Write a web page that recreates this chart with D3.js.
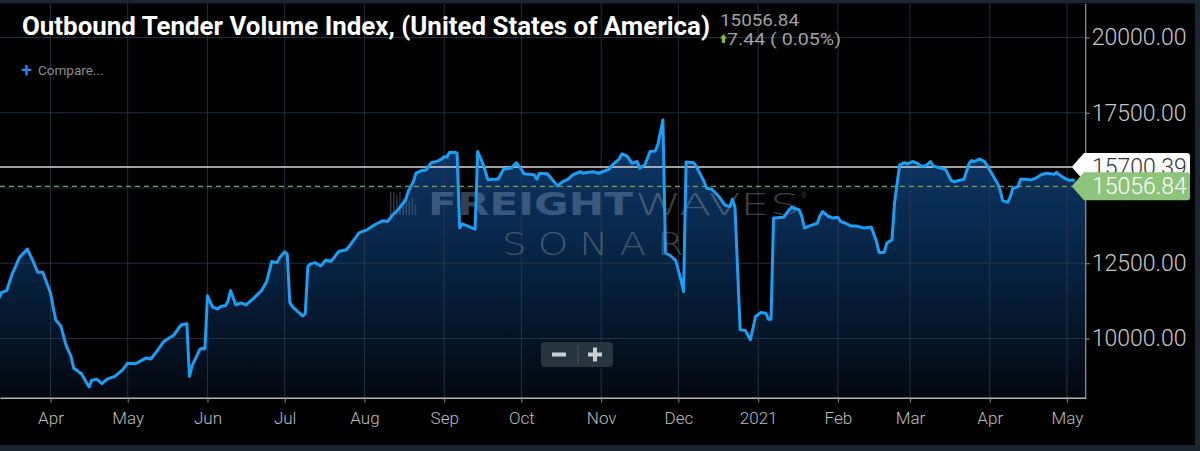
<!DOCTYPE html>
<html lang="en">
<head>
<meta charset="UTF-8">
<title>Outbound Tender Volume Index</title>
<style>
  html, body { margin: 0; padding: 0; background: #000; }
  svg { display: block; font-family: Roboto, "Open Sans", sans-serif; }
</style>
</head>
<body>
<svg id="chart" width="1200" height="451"></svg>
<script src="https://d3js.org/d3.v7.min.js"></script>
<script>
// data
var dates = [
  "2020-03-12","2020-03-13","2020-03-15","2020-03-17","2020-03-20","2020-03-23","2020-03-25","2020-03-27","2020-03-29",
  "2020-04-01","2020-04-03","2020-04-05","2020-04-07","2020-04-09","2020-04-10","2020-04-13","2020-04-15","2020-04-16",
  "2020-04-17","2020-04-19","2020-04-21","2020-04-23","2020-04-26","2020-04-29",
  "2020-05-01","2020-05-04","2020-05-08","2020-05-10","2020-05-12","2020-05-15","2020-05-17","2020-05-19","2020-05-21",
  "2020-05-22","2020-05-24","2020-05-25","2020-05-26","2020-05-29","2020-05-30","2020-05-31",
  "2020-06-01","2020-06-03","2020-06-05","2020-06-06","2020-06-08","2020-06-09","2020-06-10","2020-06-12","2020-06-14",
  "2020-06-16","2020-06-19","2020-06-22","2020-06-24","2020-06-26","2020-06-28","2020-06-29",
  "2020-07-01","2020-07-02","2020-07-03","2020-07-04","2020-07-06","2020-07-08","2020-07-09","2020-07-10","2020-07-11",
  "2020-07-13","2020-07-15","2020-07-17","2020-07-19","2020-07-22","2020-07-25","2020-07-27","2020-07-30",
  "2020-08-02","2020-08-05","2020-08-08","2020-08-10","2020-08-12","2020-08-14","2020-08-17","2020-08-18","2020-08-20",
  "2020-08-21","2020-08-23","2020-08-25","2020-08-27","2020-08-29","2020-08-31",
  "2020-09-01","2020-09-02","2020-09-03","2020-09-05","2020-09-06","2020-09-07","2020-09-08","2020-09-10","2020-09-12",
  "2020-09-13","2020-09-14","2020-09-16","2020-09-18","2020-09-20","2020-09-22","2020-09-24","2020-09-27","2020-09-29",
  "2020-10-01","2020-10-02","2020-10-06","2020-10-07","2020-10-08","2020-10-11","2020-10-12","2020-10-15","2020-10-17",
  "2020-10-19","2020-10-21","2020-10-24","2020-10-25","2020-10-27","2020-10-29","2020-10-31",
  "2020-11-04","2020-11-06","2020-11-08","2020-11-09","2020-11-11","2020-11-13","2020-11-15","2020-11-16","2020-11-18",
  "2020-11-20","2020-11-22","2020-11-23","2020-11-24","2020-11-25","2020-11-26","2020-11-28","2020-11-30",
  "2020-12-02","2020-12-03","2020-12-04","2020-12-07","2020-12-08","2020-12-11","2020-12-12","2020-12-14","2020-12-17",
  "2020-12-19","2020-12-21","2020-12-22","2020-12-23","2020-12-25","2020-12-27","2020-12-29","2020-12-31",
  "2021-01-02","2021-01-04","2021-01-05","2021-01-06","2021-01-07","2021-01-11","2021-01-13","2021-01-14","2021-01-17",
  "2021-01-18","2021-01-19","2021-01-21","2021-01-24","2021-01-25","2021-01-26","2021-01-28","2021-01-30",
  "2021-02-01","2021-02-02","2021-02-04","2021-02-06","2021-02-08","2021-02-11","2021-02-14","2021-02-16","2021-02-17",
  "2021-02-19","2021-02-20","2021-02-22","2021-02-23","2021-02-25","2021-02-27","2021-02-28",
  "2021-03-02","2021-03-04","2021-03-05","2021-03-07","2021-03-09","2021-03-10","2021-03-13","2021-03-15","2021-03-17",
  "2021-03-18","2021-03-22","2021-03-24","2021-03-25","2021-03-26","2021-03-28","2021-03-30",
  "2021-04-01","2021-04-04","2021-04-05","2021-04-06","2021-04-08","2021-04-09","2021-04-10","2021-04-12","2021-04-13",
  "2021-04-15","2021-04-17","2021-04-19","2021-04-21","2021-04-23","2021-04-26","2021-04-27","2021-04-28","2021-04-30",
  "2021-05-02","2021-05-03","2021-05-04"
];
var values = [
  11340,11530,11590,12120,12700,12970,12610,12200,12200,
  11510,10620,10420,9790,9400,9020,8830,8540,8390,
  8610,8650,8500,8650,8740,8960,
  9180,9160,9350,9320,9540,9900,10010,10120,10370,
  10460,10490,8740,9090,9630,9680,9650,
  11420,11040,10980,11060,11090,11250,11590,11120,11180,
  11120,11340,11590,11890,12560,12520,12680,
  12880,12800,11200,11060,10900,10750,10820,12390,12480,
  12520,12410,12610,12560,12890,12950,13170,13520,
  13610,13780,13910,13890,14110,14270,14600,14880,15210,
  15490,15570,15600,15840,15880,15960,
  16040,16020,16180,16190,16160,13670,13810,13740,13670,
  13630,16210,15820,15270,15290,15290,15620,15660,15840,
  15620,15470,15440,15290,15490,15470,15380,15070,15210,
  15290,15440,15540,15490,15520,15540,15490,
  15620,15820,15960,16130,16070,15820,15880,15660,15770,
  16210,16230,16430,16840,17260,12840,12750,12590,
  11950,11560,15860,15840,15710,15210,14990,14960,14690,
  14440,14380,14630,14360,10290,10270,9960,10730,
  10860,10840,10640,10640,14000,14030,14270,14360,14270,
  14050,13670,13740,13830,14070,14220,14070,14000,
  14030,13890,13830,13740,13740,13670,13700,13220,12860,
  12860,13170,13280,14500,15770,15840,15800,
  15880,15820,15730,15730,15880,15730,15660,15600,15250,
  15210,15290,15820,15910,15880,15960,15880,
  15600,15160,14940,14580,14520,14710,14990,15050,15290,
  15290,15270,15330,15440,15490,15460,15520,15440,15330,
  15250,15270,15240
];
var monthTicks = ["2020-04-01","2020-05-01","2020-06-01","2020-07-01","2020-08-01","2020-09-01","2020-10-01",
  "2020-11-01","2020-12-01","2021-01-01","2021-02-01","2021-03-01","2021-04-01","2021-05-01"];
var monthLabels = ["Apr","May","Jun","Jul","Aug","Sep","Oct","Nov","Dec","2021","Feb","Mar","Apr","May"];
var yTicks = [10000, 12500, 15000, 17500, 20000];
var prevClose = 15700.39;
var lastValue = 15056.84;
var changeText = "7.44 ( 0.05%)";
var titleText = "Outbound Tender Volume Index, (United States of America)";

var parse = d3.timeParse("%Y-%m-%d");
var data = dates.map(function (d, i) { return { date: parse(d), value: values[i] }; });

var svg = d3.select("#chart"),
  plotW = 1085.7,
  plotTop = 4,
  plotBottom = 397.7;

var x = d3.scaleTime()
  .domain([new Date(2020, 2, 12, 9), new Date(2021, 4, 8, 7)])
  .range([0, plotW]);
var y = d3.scaleLinear().domain([10000, 20000]).range([338.5, 37.5]);

svg.append("rect").attr("width", 1200).attr("height", 451).attr("fill", "#000");

var defs = svg.append("defs");
var grad = defs.append("linearGradient").attr("id", "areaFill")
  .attr("gradientUnits", "userSpaceOnUse")
  .attr("x1", 0).attr("y1", 120).attr("x2", 0).attr("y2", plotBottom);
grad.append("stop").attr("offset", 0).attr("stop-color", "#0d3a6e");
grad.append("stop").attr("offset", 0.55).attr("stop-color", "#07213f");
grad.append("stop").attr("offset", 1).attr("stop-color", "#03080f");
defs.append("clipPath").attr("id", "plotClip")
  .append("rect").attr("x", 0).attr("y", plotTop).attr("width", plotW).attr("height", plotBottom - plotTop);

// area under the line (the fill runs on to the right edge of the plot)
var area = d3.area()
  .x(function (d) { return x(d.date); })
  .y0(plotBottom)
  .y1(function (d) { return y(d.value); });
var fillData = data.concat([{ date: x.domain()[1], value: values[values.length - 1] }]);
svg.append("path").datum(fillData)
  .attr("clip-path", "url(#plotClip)")
  .attr("d", area)
  .attr("fill", "url(#areaFill)");

// grid
var tickDates = monthTicks.map(parse);
var grid = svg.append("g").attr("stroke", "#2c3d50").attr("stroke-opacity", 0.75).attr("stroke-width", 1);
grid.selectAll("line.v").data(tickDates).enter().append("line")
  .attr("x1", function (d) { return x(d); }).attr("x2", function (d) { return x(d); })
  .attr("y1", plotTop).attr("y2", plotBottom);
grid.selectAll("line.h").data(yTicks).enter().append("line")
  .attr("x1", 0).attr("x2", plotW)
  .attr("y1", function (d) { return y(d); }).attr("y2", function (d) { return y(d); });

// watermark
var wm = svg.append("g");
var bars = [23, 23, 20, 23, 17, 20, 14, 17, 11];
bars.forEach(function (h, i) {
  wm.append("rect").attr("x", 390 + i * 3.1).attr("y", 215 - h).attr("width", 1.4).attr("height", h)
    .attr("fill", "#5c7592").attr("fill-opacity", 0.5);
});
wm.append("text").attr("x", 428).attr("y", 215)
  .attr("textLength", 205).attr("lengthAdjust", "spacingAndGlyphs")
  .style("font-family", "'DejaVu Sans', sans-serif").style("font-weight", 700).style("font-size", "32px")
  .attr("fill", "#6f8cae").attr("fill-opacity", 0.48).text("FREIGHT");
wm.append("text").attr("x", 635).attr("y", 215)
  .attr("textLength", 165).attr("lengthAdjust", "spacingAndGlyphs")
  .style("font-family", "'DejaVu Sans', sans-serif").style("font-weight", 200).style("font-size", "31px")
  .attr("fill", "#8b949e").attr("fill-opacity", 0.45).text("WAVES");
wm.append("text").attr("x", 801).attr("y", 198)
  .style("font-size", "7px").attr("fill", "#8b949e").attr("fill-opacity", 0.45).text("®");
wm.append("text").attr("x", 502).attr("y", 255)
  .attr("textLength", 193).attr("lengthAdjust", "spacingAndGlyphs")
  .style("font-family", "'DejaVu Sans', sans-serif").style("font-weight", 200).style("font-size", "32px")
  .style("letter-spacing", "9px")
  .attr("fill", "#8b949e").attr("fill-opacity", 0.45).text("SONAR");

// previous close / last value lines
svg.append("line").attr("x1", 0).attr("x2", 1072)
  .attr("y1", y(prevClose)).attr("y2", y(prevClose))
  .attr("stroke", "#d6d6d6").attr("stroke-width", 1.5);
svg.append("line").attr("x1", 0).attr("x2", 1072)
  .attr("y1", y(lastValue)).attr("y2", y(lastValue))
  .attr("stroke", "#72a052").attr("stroke-width", 1.2).attr("stroke-dasharray", "5,4");

// the series line
var line = d3.line()
  .x(function (d) { return x(d.date); })
  .y(function (d) { return y(d.value); });
svg.append("path").datum(data)
  .attr("clip-path", "url(#plotClip)")
  .attr("d", line)
  .attr("fill", "none")
  .attr("stroke", "#1a9ff5")
  .attr("stroke-width", 3)
  .attr("stroke-linejoin", "round");

// x axis
var xAxis = svg.append("g")
  .attr("transform", "translate(0," + plotBottom + ")")
  .call(d3.axisBottom(x).tickValues(tickDates)
    .tickFormat(function (d, i) { return monthLabels[i]; })
    .tickSize(5).tickSizeOuter(0).tickPadding(9));
xAxis.select(".domain").attr("stroke", "#b5b5b5").attr("stroke-width", 1.5);
xAxis.selectAll(".tick line").attr("stroke", "#8a8a8a");
xAxis.selectAll("text").attr("fill", "#bdbdbd")
  .style("font-size", "17px").style("font-weight", 300).style("font-family", "Roboto, sans-serif");

// y axis on the right
svg.append("line").attr("x1", plotW).attr("x2", plotW).attr("y1", plotTop).attr("y2", plotBottom)
  .attr("stroke", "#9a9a9a").attr("stroke-width", 1.2);
var yAxis = svg.append("g")
  .attr("transform", "translate(" + plotW + ",0)")
  .call(d3.axisRight(y).tickValues(yTicks).tickFormat(d3.format(".2f")).tickSize(4).tickPadding(2));
yAxis.select(".domain").remove();
yAxis.selectAll(".tick line").attr("stroke", "#9a9a9a");
yAxis.selectAll("text").attr("fill", "#c8c8c8")
  .style("font-size", "23px").style("font-weight", 300).style("font-family", "Roboto, sans-serif");

// price tags
function tagPath(yc, top, bottom) {
  return "M1071.7," + yc + "L1084," + top + "H1187Q1190," + top + " 1190," + (top + 3) +
    "V" + (bottom - 3) + "Q1190," + bottom + " 1187," + bottom + "H1084Z";
}
var yPrev = y(prevClose), yLast = y(lastValue);
svg.append("path").attr("d", tagPath(yPrev, yPrev - 14, yPrev + 14)).attr("fill", "#ffffff");
svg.append("text").attr("x", 1092).attr("y", yPrev + 8)
  .style("font-size", "23px").style("font-weight", 300).attr("fill", "#333")
  .text(d3.format(".2f")(prevClose));
svg.append("path").attr("d", tagPath(yLast, yLast - 14, yLast + 14)).attr("fill", "#8dc47b");
svg.append("text").attr("x", 1092).attr("y", yLast + 8)
  .style("font-size", "23px").style("font-weight", 300).attr("fill", "#ffffff")
  .text(d3.format(".2f")(lastValue));

// title + header values
svg.append("text").attr("x", 22).attr("y", 35)
  .attr("textLength", 688).attr("lengthAdjust", "spacingAndGlyphs")
  .style("font-size", "25px").style("font-weight", 700).attr("fill", "#ffffff")
  .text(titleText);
svg.append("text").attr("x", 720).attr("y", 26)
  .attr("textLength", 79).attr("lengthAdjust", "spacingAndGlyphs")
  .style("font-size", "16px").attr("fill", "#a3a3a3").text(d3.format(".2f")(lastValue));
svg.append("path").attr("d", "M723.5,34L727,38.5H725V43H722V38.5H720Z").attr("fill", "#7cc23e");
svg.append("text").attr("x", 727).attr("y", 45)
  .attr("textLength", 114).attr("lengthAdjust", "spacingAndGlyphs")
  .style("font-size", "16px").attr("fill", "#a3a3a3").text(changeText);
svg.append("text").attr("x", 21).attr("y", 77)
  .style("font-size", "20px").style("font-weight", 500).attr("fill", "#2f80e8").text("+");
svg.append("text").attr("x", 38).attr("y", 75)
  .style("font-size", "13.5px").attr("fill", "#8e8e8e").text("Compare...");

// zoom control
var zc = svg.append("g");
zc.append("rect").attr("x", 541).attr("y", 342).attr("width", 72).attr("height", 25).attr("rx", 4)
  .attr("fill", "#28353f");
zc.append("rect").attr("x", 552).attr("y", 352.5).attr("width", 14).attr("height", 4).attr("fill", "#c9ced2");
zc.append("rect").attr("x", 588).attr("y", 352.5).attr("width", 14).attr("height", 4).attr("fill", "#c9ced2");
zc.append("rect").attr("x", 593).attr("y", 347.5).attr("width", 4).attr("height", 14).attr("fill", "#c9ced2");
zc.append("line").attr("x1", 578).attr("x2", 578).attr("y1", 346).attr("y2", 363)
  .attr("stroke", "#65717b").attr("stroke-dasharray", "1,1");

// frame bands
svg.append("rect").attr("x", 0).attr("y", 0).attr("width", 1200).attr("height", 3.5).attr("fill", "#1b252f");
svg.append("rect").attr("x", 1195).attr("y", 0).attr("width", 5).attr("height", 451).attr("fill", "#1b252f");
svg.append("rect").attr("x", 0).attr("y", 445).attr("width", 1200).attr("height", 6).attr("fill", "#1b252f");
</script>
</body>
</html>
